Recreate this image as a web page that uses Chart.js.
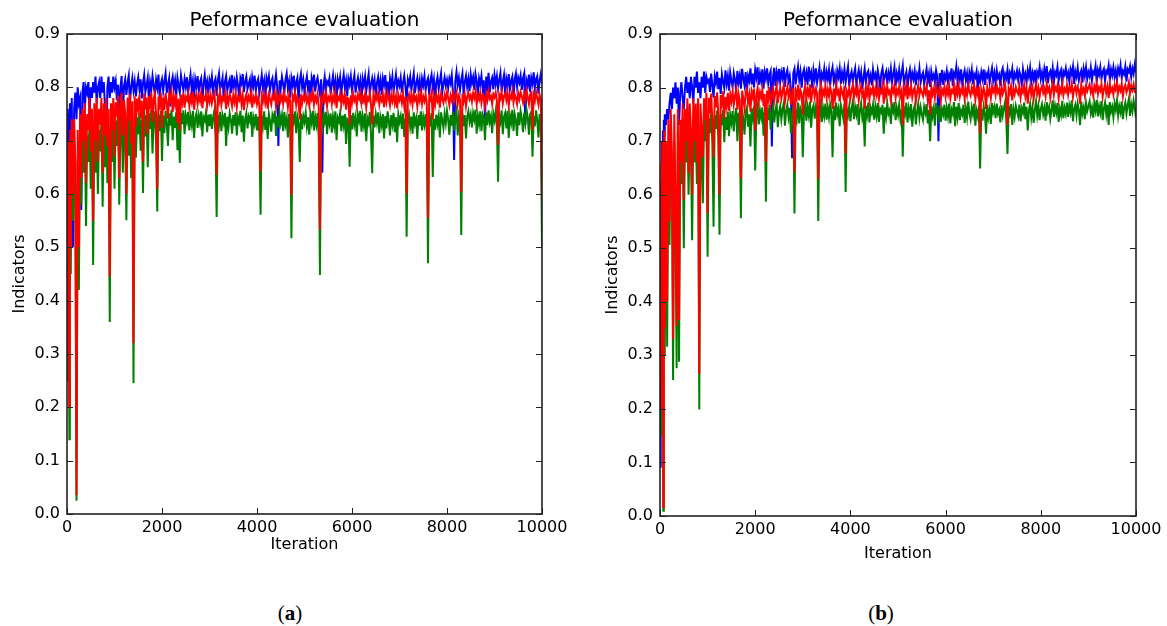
<!DOCTYPE html>
<html><head><meta charset="utf-8">
<script src="https://cdn.jsdelivr.net/npm/chart.js@4.4.1/dist/chart.umd.min.js"></script>
<style>
html,body{margin:0;padding:0;background:#fff;overflow:hidden;width:1167px;height:626px;}
canvas{position:absolute;top:0;}
#c1{left:0;} #c2{left:593px;}
.cap{position:absolute;font-family:"Liberation Serif",serif;font-size:21px;line-height:24px;top:601px;width:60px;text-align:center;color:#000;}
</style></head><body>
<canvas id="c1" width="583" height="560"></canvas>
<canvas id="c2" width="574" height="569"></canvas>
<div class="cap" style="left:260px">(<b>a</b>)</div>
<div class="cap" style="left:851px">(<b>b</b>)</div>
<script>
const iterations = [
0,10,20,30,40,50,60,70,80,90,100,
125,150,175,200,225,250,275,300,325,350,375,400,425,450,475,500,525,550,575,600,625,650,675,700,725,750,775,800,825,850,875,900,925,950,975,1000,
1025,1050,1075,1100,1125,1150,1175,1200,1225,1250,1275,1300,1325,1350,1375,1400,1425,1450,1475,1500,
1525,1550,1575,1600,1625,1650,1675,1700,1725,1750,1775,1800,1825,1850,1875,1900,1925,1950,1975,2000,
2025,2050,2075,2100,2125,2150,2175,2200,2225,2250,2275,2300,2325,2350,2375,2400,2425,2450,2475,2500,
2525,2550,2575,2600,2625,2650,2675,2700,2725,2750,2775,2800,2825,2850,2875,2900,2925,2950,2975,3000,
3025,3050,3075,3100,3125,3150,3175,3200,3225,3250,3275,3300,3325,3350,3375,3400,3425,3450,3475,3500,
3525,3550,3575,3600,3625,3650,3675,3700,3725,3750,3775,3800,3825,3850,3875,3900,3925,3950,3975,4000,
4025,4050,4075,4100,4125,4150,4175,4200,4225,4250,4275,4300,4325,4350,4375,4400,4425,4450,4475,4500,
4525,4550,4575,4600,4625,4650,4675,4700,4725,4750,4775,4800,4825,4850,4875,4900,4925,4950,4975,5000,
5025,5050,5075,5100,5125,5150,5175,5200,5225,5250,5275,5300,5325,5350,5375,5400,5425,5450,5475,5500,
5525,5550,5575,5600,5625,5650,5675,5700,5725,5750,5775,5800,5825,5850,5875,5900,5925,5950,5975,6000,
6025,6050,6075,6100,6125,6150,6175,6200,6225,6250,6275,6300,6325,6350,6375,6400,6425,6450,6475,6500,
6525,6550,6575,6600,6625,6650,6675,6700,6725,6750,6775,6800,6825,6850,6875,6900,6925,6950,6975,7000,
7025,7050,7075,7100,7125,7150,7175,7200,7225,7250,7275,7300,7325,7350,7375,7400,7425,7450,7475,7500,
7525,7550,7575,7600,7625,7650,7675,7700,7725,7750,7775,7800,7825,7850,7875,7900,7925,7950,7975,8000,
8025,8050,8075,8100,8125,8150,8175,8200,8225,8250,8275,8300,8325,8350,8375,8400,8425,8450,8475,8500,
8525,8550,8575,8600,8625,8650,8675,8700,8725,8750,8775,8800,8825,8850,8875,8900,8925,8950,8975,9000,
9025,9050,9075,9100,9125,9150,9175,9200,9225,9250,9275,9300,9325,9350,9375,9400,9425,9450,9475,9500,
9525,9550,9575,9600,9625,9650,9675,9700,9725,9750,9775,9800,9825,9850,9875,9900,9925,9950,9975,10000
];

// ---- Panel (a) ----
const blueA = [
0.73,0.76,0.70,0.75,0.54,0.74,0.77,0.72,0.76,0.74,0.78,
0.50,0.76,0.79,0.74,0.80,0.77,0.78,0.57,0.79,0.81,0.76,0.80,0.79,0.81,0.75,0.80,0.78,0.81,0.79,0.82,0.77,0.80,0.81,0.78,0.82,0.79,0.81,0.76,0.66,0.80,0.82,0.78,0.81,0.79,0.82,0.80,
0.812,0.776,0.805,0.74,0.798,0.821,0.73,0.803,0.815,0.786,0.809,0.822,0.768,0.801,0.817,0.794,0.811,0.783,0.806,0.819,
0.797,0.815,0.779,0.808,0.823,0.791,0.804,0.818,0.772,0.81,0.796,0.821,0.803,0.787,0.814,0.799,0.824,0.781,0.807,0.816,
0.793,0.811,0.826,0.789,0.805,0.817,0.764,0.809,0.82,0.798,0.813,0.785,0.818,0.803,0.79,0.822,0.807,0.795,0.816,0.801,
0.819,0.788,0.808,0.824,0.796,0.812,0.78,0.815,0.802,0.821,0.793,0.81,0.817,0.77,0.806,0.823,0.799,0.811,0.787,0.814,
0.803,0.82,0.792,0.809,0.816,0.784,0.813,0.826,0.797,0.805,0.818,0.776,0.81,0.821,0.794,0.807,0.815,0.789,0.823,0.801,
0.812,0.795,0.819,0.804,0.778,0.817,0.808,0.825,0.791,0.81,0.82,0.797,0.806,0.815,0.783,0.818,0.803,0.822,0.794,0.809,
0.816,0.79,0.805,0.823,0.799,0.812,0.775,0.818,0.807,0.821,0.795,0.81,0.817,0.786,0.806,0.824,0.801,0.69,0.813,0.798,
0.82,0.807,0.789,0.815,0.826,0.798,0.811,0.781,0.817,0.804,0.822,0.793,0.809,0.818,0.772,0.812,0.825,0.8,0.814,0.791,
0.808,0.821,0.796,0.813,0.779,0.817,0.805,0.824,0.792,0.81,0.818,0.801,0.787,0.815,0.64,0.803,0.82,0.794,0.811,0.806,
0.817,0.788,0.806,0.822,0.797,0.812,0.776,0.815,0.803,0.819,0.791,0.809,0.824,0.799,0.813,0.784,0.816,0.805,0.821,0.795,
0.81,0.823,0.79,0.807,0.818,0.798,0.812,0.769,0.816,0.804,0.82,0.793,0.81,0.825,0.788,0.806,0.817,0.8,0.814,0.782,
0.809,0.82,0.797,0.813,0.786,0.817,0.805,0.823,0.794,0.811,0.779,0.816,0.802,0.82,0.792,0.808,0.824,0.798,0.812,0.803,
0.818,0.79,0.809,0.822,0.801,0.774,0.815,0.806,0.82,0.795,0.811,0.826,0.789,0.807,0.818,0.797,0.813,0.783,0.816,0.804,
0.821,0.795,0.81,0.817,0.786,0.813,0.824,0.8,0.815,0.778,0.809,0.82,0.797,0.812,0.826,0.791,0.806,0.819,0.803,0.814,
0.799,0.817,0.808,0.823,0.79,0.664,0.812,0.829,0.805,0.818,0.796,0.814,0.826,0.787,0.81,0.822,0.801,0.816,0.793,0.824,
0.808,0.819,0.795,0.825,0.812,0.784,0.817,0.806,0.822,0.798,0.813,0.74,0.82,0.803,0.827,0.79,0.811,0.818,0.796,0.823,
0.806,0.821,0.798,0.814,0.827,0.792,0.81,0.823,0.785,0.816,0.804,0.825,0.797,0.812,0.82,0.779,0.815,0.826,0.801,0.818,
0.809,0.822,0.795,0.817,0.826,0.73,0.813,0.804,0.824,0.791,0.818,0.807,0.828,0.799,0.815,0.821,0.788,0.812,0.825,0.806
];
const redA = [
0.65,0.30,0.55,0.70,0.40,0.20,0.62,0.72,0.50,0.68,0.74,
0.60,0.74,0.66,0.035,0.72,0.50,0.75,0.63,0.76,0.70,0.77,0.62,0.75,0.72,0.78,0.68,0.76,0.55,0.77,0.70,0.78,0.66,0.76,0.73,0.78,0.64,0.77,0.71,0.78,0.69,0.76,0.445,0.77,0.72,0.78,0.67,
0.772,0.745,0.785,0.63,0.768,0.79,0.71,0.776,0.752,0.60,0.781,0.738,0.788,0.695,0.774,0.32,0.783,0.726,0.779,0.761,
0.786,0.742,0.775,0.66,0.789,0.758,0.781,0.712,0.784,0.767,0.791,0.735,0.778,0.788,0.749,0.61,0.783,0.769,0.79,0.724,
0.781,0.757,0.789,0.772,0.741,0.785,0.776,0.791,0.754,0.783,0.768,0.787,0.733,0.779,0.72,0.786,0.771,0.79,0.762,0.782,
0.776,0.789,0.765,0.783,0.772,0.791,0.758,0.78,0.787,0.769,0.784,0.774,0.79,0.761,0.782,0.777,0.788,0.766,0.785,0.773,
0.786,0.77,0.781,0.789,0.764,0.636,0.784,0.773,0.79,0.767,0.781,0.776,0.788,0.759,0.783,0.771,0.787,0.778,0.765,0.785,
0.772,0.788,0.763,0.781,0.776,0.79,0.768,0.784,0.757,0.779,0.787,0.77,0.783,0.775,0.789,0.762,0.782,0.774,0.786,0.769,
0.781,0.766,0.642,0.784,0.774,0.789,0.77,0.782,0.76,0.786,0.777,0.768,0.785,0.779,0.79,0.764,0.783,0.771,0.787,0.775,
0.784,0.769,0.788,0.776,0.781,0.763,0.786,0.773,0.598,0.785,0.778,0.79,0.767,0.782,0.775,0.74,0.787,0.77,0.783,0.776,
0.789,0.772,0.781,0.766,0.785,0.777,0.791,0.768,0.783,0.774,0.787,0.762,0.533,0.78,0.771,0.786,0.775,0.789,0.765,0.782,
0.776,0.787,0.769,0.783,0.774,0.79,0.761,0.782,0.777,0.788,0.768,0.784,0.773,0.786,0.758,0.781,0.779,0.73,0.785,0.771,
0.788,0.775,0.782,0.766,0.786,0.779,0.791,0.77,0.783,0.774,0.787,0.762,0.781,0.776,0.789,0.768,0.73,0.784,0.772,0.786,
0.777,0.789,0.768,0.782,0.775,0.787,0.763,0.784,0.772,0.79,0.779,0.766,0.785,0.774,0.788,0.77,0.783,0.761,0.786,0.776,
0.784,0.771,0.788,0.765,0.782,0.601,0.779,0.787,0.773,0.785,0.768,0.789,0.776,0.782,0.764,0.786,0.775,0.79,0.769,0.783,
0.774,0.786,0.77,0.555,0.783,0.777,0.789,0.74,0.781,0.768,0.787,0.775,0.784,0.762,0.788,0.779,0.771,0.786,0.776,0.791,
0.78,0.767,0.785,0.776,0.789,0.772,0.783,0.791,0.769,0.784,0.777,0.604,0.788,0.774,0.786,0.765,0.782,0.79,0.778,0.785,
0.773,0.789,0.78,0.792,0.768,0.785,0.777,0.79,0.771,0.786,0.782,0.764,0.788,0.776,0.793,0.779,0.784,0.769,0.787,0.781,
0.79,0.775,0.692,0.786,0.779,0.792,0.77,0.784,0.788,0.776,0.791,0.766,0.785,0.78,0.793,0.772,0.787,0.781,0.769,0.789,
0.778,0.791,0.783,0.772,0.788,0.776,0.794,0.781,0.769,0.787,0.79,0.72,0.785,0.775,0.792,0.78,0.768,0.786,0.777,0.59
];
const greenA = [
0.60,0.25,0.45,0.65,0.35,0.14,0.55,0.68,0.45,0.62,0.70,
0.55,0.70,0.60,0.025,0.66,0.42,0.70,0.58,0.72,0.64,0.73,0.54,0.71,0.66,0.74,0.61,0.72,0.467,0.73,0.64,0.74,0.60,0.72,0.68,0.74,0.576,0.73,0.65,0.74,0.62,0.72,0.36,0.73,0.66,0.74,0.61,
0.738,0.69,0.752,0.58,0.726,0.748,0.64,0.741,0.705,0.551,0.746,0.672,0.755,0.63,0.737,0.245,0.751,0.668,0.744,0.712,
0.753,0.681,0.739,0.602,0.757,0.708,0.748,0.65,0.752,0.722,0.758,0.676,0.741,0.755,0.697,0.567,0.749,0.718,0.756,0.662,
0.747,0.714,0.756,0.733,0.69,0.751,0.728,0.758,0.701,0.745,0.724,0.754,0.682,0.74,0.658,0.752,0.731,0.757,0.712,0.748,
0.736,0.754,0.719,0.745,0.73,0.756,0.705,0.742,0.751,0.724,0.747,0.733,0.755,0.708,0.744,0.738,0.753,0.716,0.749,0.727,
0.75,0.722,0.743,0.755,0.711,0.557,0.748,0.729,0.754,0.718,0.746,0.734,0.752,0.69,0.745,0.726,0.751,0.739,0.713,0.748,
0.728,0.753,0.71,0.744,0.735,0.756,0.716,0.747,0.698,0.741,0.752,0.723,0.745,0.737,0.754,0.707,0.743,0.731,0.75,0.719,
0.745,0.714,0.561,0.747,0.729,0.755,0.72,0.744,0.703,0.75,0.736,0.717,0.748,0.739,0.756,0.709,0.746,0.725,0.751,0.733,
0.748,0.718,0.754,0.73,0.742,0.706,0.75,0.727,0.517,0.749,0.737,0.755,0.714,0.745,0.732,0.66,0.751,0.721,0.746,0.735,
0.753,0.726,0.744,0.711,0.749,0.734,0.756,0.719,0.745,0.73,0.752,0.705,0.448,0.741,0.723,0.75,0.736,0.754,0.712,0.746,
0.732,0.751,0.715,0.745,0.728,0.755,0.701,0.743,0.736,0.752,0.718,0.747,0.729,0.75,0.694,0.741,0.738,0.651,0.748,0.721,
0.752,0.73,0.744,0.708,0.749,0.737,0.756,0.717,0.745,0.728,0.751,0.699,0.742,0.733,0.754,0.712,0.639,0.747,0.725,0.75,
0.734,0.753,0.714,0.743,0.729,0.75,0.704,0.746,0.723,0.755,0.738,0.71,0.748,0.731,0.752,0.716,0.744,0.697,0.749,0.735,
0.746,0.722,0.751,0.707,0.741,0.52,0.737,0.749,0.726,0.745,0.713,0.753,0.732,0.742,0.703,0.748,0.728,0.755,0.719,0.744,
0.73,0.75,0.716,0.47,0.744,0.735,0.752,0.632,0.741,0.72,0.749,0.731,0.746,0.706,0.753,0.738,0.724,0.75,0.733,0.756,
0.739,0.711,0.748,0.728,0.754,0.719,0.743,0.757,0.71,0.746,0.734,0.523,0.751,0.727,0.748,0.704,0.745,0.755,0.736,0.749,
0.725,0.752,0.74,0.758,0.713,0.747,0.731,0.755,0.718,0.749,0.742,0.701,0.753,0.729,0.757,0.735,0.746,0.714,0.751,0.738,
0.755,0.726,0.623,0.748,0.736,0.757,0.712,0.745,0.752,0.723,0.756,0.705,0.747,0.734,0.758,0.718,0.75,0.739,0.709,0.753,
0.729,0.755,0.741,0.716,0.752,0.733,0.758,0.744,0.711,0.749,0.754,0.67,0.746,0.727,0.757,0.738,0.706,0.75,0.735,0.50
];

// ---- Panel (b) ----
const blueB = [
0.63,0.09,0.15,0.62,0.70,0.66,0.72,0.70,0.74,0.71,0.75,
0.73,0.76,0.74,0.77,0.79,0.76,0.80,0.78,0.81,0.77,0.80,0.73,0.79,0.81,0.78,0.76,0.80,0.82,0.79,0.81,0.78,0.82,0.80,0.77,0.82,0.80,0.83,0.79,0.81,0.78,0.82,0.80,0.83,0.79,0.82,0.81,
0.814,0.792,0.826,0.805,0.781,0.821,0.809,0.83,0.797,0.818,0.788,0.825,0.811,0.799,0.832,0.807,0.822,0.794,0.828,0.812,
0.801,0.827,0.815,0.793,0.831,0.81,0.823,0.798,0.835,0.817,0.804,0.829,0.791,0.822,0.813,0.836,0.806,0.826,0.8,0.833,
0.819,0.838,0.805,0.826,0.812,0.834,0.798,0.829,0.817,0.836,0.808,0.824,0.831,0.69,0.82,0.837,0.803,0.828,0.814,0.835,
0.81,0.829,0.818,0.838,0.801,0.825,0.833,0.812,0.822,0.797,0.668,0.827,0.835,0.806,0.824,0.839,0.815,0.83,0.8,0.826,
0.834,0.813,0.827,0.805,0.839,0.819,0.828,0.798,0.832,0.816,0.836,0.809,0.823,0.837,0.803,0.826,0.818,0.835,0.81,0.829,
0.816,0.833,0.804,0.827,0.838,0.812,0.824,0.799,0.831,0.82,0.836,0.807,0.828,0.815,0.834,0.81,0.826,0.839,0.802,0.822,
0.83,0.811,0.825,0.836,0.806,0.821,0.833,0.814,0.828,0.797,0.819,0.835,0.809,0.826,0.831,0.812,0.823,0.804,0.834,0.818,
0.825,0.808,0.832,0.819,0.801,0.827,0.836,0.813,0.822,0.83,0.806,0.828,0.817,0.835,0.81,0.824,0.838,0.803,0.826,0.815,
0.833,0.812,0.826,0.841,0.807,0.82,0.829,0.798,0.823,0.834,0.811,0.827,0.816,0.831,0.804,0.825,0.818,0.836,0.809,0.822,
0.828,0.806,0.821,0.835,0.812,0.826,0.801,0.83,0.817,0.824,0.809,0.832,0.82,0.70,0.827,0.813,0.833,0.805,0.824,0.816,
0.831,0.81,0.825,0.818,0.836,0.803,0.827,0.821,0.839,0.812,0.829,0.815,0.834,0.807,0.823,0.832,0.814,0.826,0.799,0.828,
0.817,0.833,0.806,0.825,0.819,0.83,0.798,0.822,0.811,0.829,0.816,0.834,0.805,0.826,0.82,0.831,0.809,0.824,0.836,0.813,
0.827,0.808,0.832,0.818,0.824,0.803,0.829,0.836,0.812,0.825,0.817,0.833,0.806,0.828,0.821,0.835,0.81,0.826,0.819,0.831,
0.814,0.83,0.822,0.805,0.834,0.818,0.826,0.809,0.832,0.82,0.837,0.811,0.827,0.815,0.833,0.804,0.829,0.822,0.838,0.816,
0.828,0.812,0.835,0.821,0.84,0.808,0.826,0.831,0.817,0.836,0.81,0.829,0.823,0.838,0.813,0.827,0.833,0.806,0.83,0.824,
0.836,0.819,0.828,0.811,0.834,0.825,0.839,0.807,0.83,0.82,0.837,0.814,0.826,0.832,0.809,0.835,0.822,0.838,0.816,0.829,
0.821,0.837,0.813,0.83,0.826,0.84,0.81,0.833,0.824,0.838,0.817,0.829,0.835,0.812,0.831,0.827,0.841,0.815,0.834,0.823,
0.838,0.82,0.832,0.814,0.836,0.827,0.842,0.818,0.831,0.825,0.839,0.811,0.834,0.829,0.84,0.82,0.836,0.826,0.843,0.828
];
const redB = [
0.45,0.60,0.30,0.66,0.20,0.70,0.40,0.017,0.55,0.72,0.35,
0.70,0.40,0.74,0.55,0.76,0.68,0.33,0.75,0.60,0.355,0.76,0.366,0.74,0.66,0.77,0.59,0.76,0.70,0.78,0.64,0.77,0.72,0.60,0.78,0.70,0.77,0.66,0.78,0.265,0.77,0.72,0.67,0.78,0.74,0.79,0.565,
0.781,0.752,0.789,0.736,0.67,0.784,0.763,0.791,0.748,0.60,0.786,0.771,0.793,0.742,0.782,0.765,0.79,0.757,0.787,0.774,
0.792,0.768,0.785,0.796,0.759,0.788,0.777,0.63,0.794,0.78,0.762,0.79,0.797,0.773,0.787,0.755,0.793,0.783,0.798,0.72,
0.786,0.799,0.774,0.791,0.781,0.796,0.765,0.788,0.661,0.794,0.779,0.801,0.769,0.785,0.797,0.776,0.792,0.803,0.771,0.789,
0.798,0.78,0.794,0.804,0.773,0.79,0.801,0.784,0.796,0.768,0.787,0.799,0.641,0.793,0.782,0.805,0.776,0.795,0.788,0.75,
0.792,0.803,0.779,0.796,0.786,0.806,0.772,0.794,0.8,0.783,0.797,0.789,0.629,0.791,0.804,0.777,0.795,0.787,0.802,0.781,
0.796,0.784,0.801,0.79,0.76,0.798,0.779,0.805,0.788,0.794,0.774,0.8,0.791,0.783,0.803,0.677,0.793,0.786,0.799,0.78,
0.794,0.805,0.782,0.797,0.788,0.801,0.776,0.795,0.803,0.785,0.792,0.76,0.799,0.787,0.804,0.778,0.796,0.79,0.802,0.783,
0.797,0.786,0.803,0.779,0.795,0.791,0.806,0.77,0.798,0.784,0.802,0.789,0.794,0.776,0.8,0.792,0.805,0.781,0.796,0.788,
0.801,0.785,0.794,0.73,0.799,0.79,0.806,0.778,0.797,0.788,0.803,0.782,0.795,0.8,0.774,0.792,0.804,0.786,0.798,0.791,
0.784,0.799,0.79,0.803,0.777,0.795,0.75,0.801,0.787,0.797,0.781,0.804,0.792,0.786,0.8,0.776,0.796,0.789,0.802,0.783,
0.798,0.787,0.803,0.78,0.795,0.791,0.806,0.775,0.799,0.788,0.804,0.784,0.796,0.79,0.802,0.779,0.797,0.786,0.805,0.792,
0.785,0.8,0.791,0.804,0.778,0.797,0.787,0.802,0.714,0.795,0.783,0.799,0.79,0.76,0.801,0.788,0.796,0.78,0.803,0.792,
0.799,0.786,0.804,0.791,0.797,0.779,0.802,0.788,0.795,0.805,0.783,0.73,0.798,0.79,0.803,0.776,0.796,0.787,0.801,0.793,
0.788,0.802,0.781,0.797,0.791,0.805,0.784,0.798,0.77,0.794,0.803,0.787,0.799,0.779,0.796,0.806,0.789,0.8,0.783,0.797,
0.803,0.79,0.798,0.784,0.806,0.793,0.8,0.781,0.797,0.808,0.787,0.801,0.795,0.804,0.78,0.799,0.791,0.807,0.786,0.798,
0.792,0.805,0.787,0.8,0.794,0.808,0.782,0.797,0.803,0.789,0.801,0.795,0.77,0.806,0.791,0.798,0.785,0.804,0.793,0.8,
0.806,0.791,0.799,0.785,0.803,0.795,0.808,0.788,0.8,0.794,0.807,0.783,0.798,0.805,0.79,0.802,0.78,0.806,0.793,0.799,
0.787,0.804,0.796,0.809,0.79,0.801,0.794,0.807,0.784,0.8,0.805,0.791,0.798,0.81,0.789,0.803,0.795,0.806,0.792,0.79
];
const greenB = [
0.40,0.55,0.25,0.60,0.15,0.65,0.35,0.01,0.50,0.68,0.30,
0.66,0.316,0.70,0.506,0.72,0.64,0.254,0.70,0.55,0.276,0.72,0.288,0.70,0.62,0.73,0.50,0.72,0.66,0.74,0.60,0.73,0.68,0.515,0.74,0.66,0.73,0.62,0.74,0.199,0.73,0.68,0.584,0.74,0.70,0.75,0.484,
0.742,0.715,0.753,0.694,0.54,0.748,0.723,0.757,0.706,0.525,0.751,0.73,0.758,0.698,0.745,0.721,0.755,0.709,0.749,0.734,
0.756,0.718,0.747,0.762,0.7,0.753,0.735,0.556,0.759,0.741,0.712,0.754,0.763,0.727,0.75,0.69,0.761,0.744,0.765,0.645,
0.752,0.766,0.731,0.758,0.744,0.763,0.71,0.755,0.587,0.761,0.739,0.768,0.722,0.749,0.764,0.735,0.757,0.77,0.726,0.753,
0.765,0.741,0.76,0.771,0.729,0.756,0.768,0.745,0.762,0.715,0.75,0.766,0.565,0.759,0.743,0.772,0.733,0.761,0.754,0.67,
0.757,0.769,0.738,0.763,0.748,0.774,0.725,0.76,0.767,0.742,0.764,0.751,0.551,0.758,0.771,0.736,0.762,0.747,0.77,0.74,
0.763,0.745,0.768,0.754,0.67,0.766,0.739,0.772,0.75,0.761,0.728,0.767,0.756,0.743,0.77,0.605,0.759,0.748,0.765,0.737,
0.76,0.773,0.741,0.764,0.75,0.769,0.73,0.758,0.771,0.744,0.757,0.69,0.766,0.749,0.772,0.735,0.762,0.753,0.768,0.74,
0.764,0.747,0.771,0.736,0.76,0.754,0.768,0.714,0.763,0.745,0.77,0.751,0.758,0.732,0.767,0.756,0.773,0.739,0.762,0.749,
0.768,0.742,0.759,0.671,0.765,0.752,0.772,0.735,0.761,0.748,0.769,0.727,0.757,0.766,0.731,0.754,0.77,0.744,0.763,0.75,
0.74,0.764,0.753,0.769,0.733,0.758,0.70,0.766,0.747,0.761,0.729,0.771,0.755,0.743,0.767,0.736,0.76,0.75,0.768,0.738,
0.762,0.746,0.77,0.733,0.759,0.751,0.773,0.728,0.764,0.745,0.771,0.739,0.757,0.75,0.768,0.734,0.761,0.744,0.774,0.752,
0.741,0.763,0.75,0.77,0.729,0.757,0.746,0.766,0.649,0.76,0.738,0.765,0.752,0.714,0.768,0.745,0.759,0.732,0.771,0.754,
0.764,0.743,0.77,0.751,0.758,0.735,0.767,0.748,0.761,0.773,0.739,0.676,0.763,0.752,0.769,0.73,0.76,0.745,0.766,0.755,
0.746,0.768,0.737,0.761,0.753,0.772,0.741,0.764,0.72,0.757,0.77,0.744,0.762,0.734,0.759,0.774,0.748,0.765,0.739,0.76,
0.769,0.75,0.762,0.738,0.773,0.755,0.764,0.742,0.758,0.776,0.745,0.766,0.753,0.771,0.736,0.76,0.749,0.775,0.743,0.762,
0.751,0.772,0.745,0.766,0.754,0.776,0.737,0.76,0.768,0.748,0.77,0.757,0.73,0.774,0.752,0.763,0.741,0.771,0.756,0.765,
0.774,0.752,0.763,0.744,0.771,0.757,0.777,0.746,0.765,0.753,0.775,0.739,0.761,0.772,0.75,0.768,0.73,0.773,0.755,0.764,
0.745,0.77,0.758,0.776,0.748,0.765,0.754,0.774,0.741,0.762,0.772,0.751,0.767,0.779,0.747,0.769,0.756,0.775,0.761,0.743
];

const xTickValues = [0,2000,4000,6000,8000,10000];
const xTickLabels = ['0','2000','4000','6000','8000','10000'];
const yTickValues = [0,0.1,0.2,0.3,0.4,0.5,0.6,0.7,0.8,0.9];
const yTickLabels = ['0.0','0.1','0.2','0.3','0.4','0.5','0.6','0.7','0.8','0.9'];
const titleText = 'Peformance evaluation';
const xTitle = 'Iteration';
const yTitle = 'Indicators';

const FONT = "'DejaVu Sans', sans-serif";

const frameTicks = {
  id: 'frameTicks',
  afterDatasetsDraw(chart) {
    const {ctx, chartArea: a, scales: {x, y}} = chart;
    ctx.save();
    ctx.strokeStyle = '#222';
    ctx.lineWidth = 1;
    ctx.beginPath();
    x.ticks.forEach(t => {
      const px = Math.round(x.getPixelForValue(t.value)) + 0.5;
      ctx.moveTo(px, a.bottom); ctx.lineTo(px, a.bottom - 6);
      ctx.moveTo(px, a.top); ctx.lineTo(px, a.top + 6);
    });
    y.ticks.forEach(t => {
      const py = Math.round(y.getPixelForValue(t.value)) + 0.5;
      ctx.moveTo(a.left, py); ctx.lineTo(a.left + 6, py);
      ctx.moveTo(a.right, py); ctx.lineTo(a.right - 6, py);
    });
    ctx.stroke();
    ctx.lineWidth = 1.6;
    ctx.strokeRect(a.left, a.top, a.right - a.left, a.bottom - a.top);
    ctx.restore();
  }
};

function makeChart(id, red, green, blue, padRight, xAxisH) {
  return new Chart(document.getElementById(id), {
    type: 'line',
    data: {
      labels: iterations,
      datasets: [
        {data: red, borderColor: '#ff0000'},
        {data: green, borderColor: '#008000'},
        {data: blue, borderColor: '#0000ff'}
      ]
    },
    options: {
      responsive: false,
      animation: false,
      events: [],
      layout: {padding: {left: 0, right: padRight, top: 0, bottom: 0}},
      elements: {point: {radius: 0}, line: {borderWidth: 2, tension: 0, fill: false}},
      plugins: {
        legend: {display: false},
        tooltip: {enabled: false},
        title: {
          display: true, text: titleText, fullSize: false, color: '#000',
          font: {family: FONT, size: 20, weight: 'normal', lineHeight: 1.2},
          padding: {top: 9, bottom: 1}
        }
      },
      scales: {
        x: {
          type: 'linear', min: 0, max: 10000,
          grid: {display: false, drawTicks: false}, border: {display: false},
          afterBuildTicks: s => { s.ticks = xTickValues.map(v => ({value: v})); },
          afterFit: s => { s.height = xAxisH; },
          ticks: {
            padding: 4, color: '#000', maxRotation: 0, autoSkip: false,
            font: {family: FONT, size: 16},
            callback: (v, i) => xTickLabels[i]
          },
          title: {display: true, text: xTitle, color: '#000',
            font: {family: FONT, size: 16, lineHeight: 1.2}, padding: {top: 0, bottom: 6}}
        },
        y: {
          type: 'linear', min: 0, max: 0.9,
          grid: {display: false, drawTicks: false}, border: {display: false},
          afterBuildTicks: s => { s.ticks = yTickValues.map(v => ({value: v})); },
          afterFit: s => { s.width = 67; },
          ticks: {
            padding: 7, color: '#000', autoSkip: false,
            font: {family: FONT, size: 16},
            callback: (v, i) => yTickLabels[i]
          },
          title: {display: true, text: yTitle, color: '#000',
            font: {family: FONT, size: 16, lineHeight: 1.2}, padding: {top: 10, bottom: 0}}
        }
      }
    },
    plugins: [frameTicks]
  });
}

makeChart('c1', redA, greenA, blueA, 41, 46);
makeChart('c2', redB, greenB, blueB, 31, 53);
</script>
</body></html>
